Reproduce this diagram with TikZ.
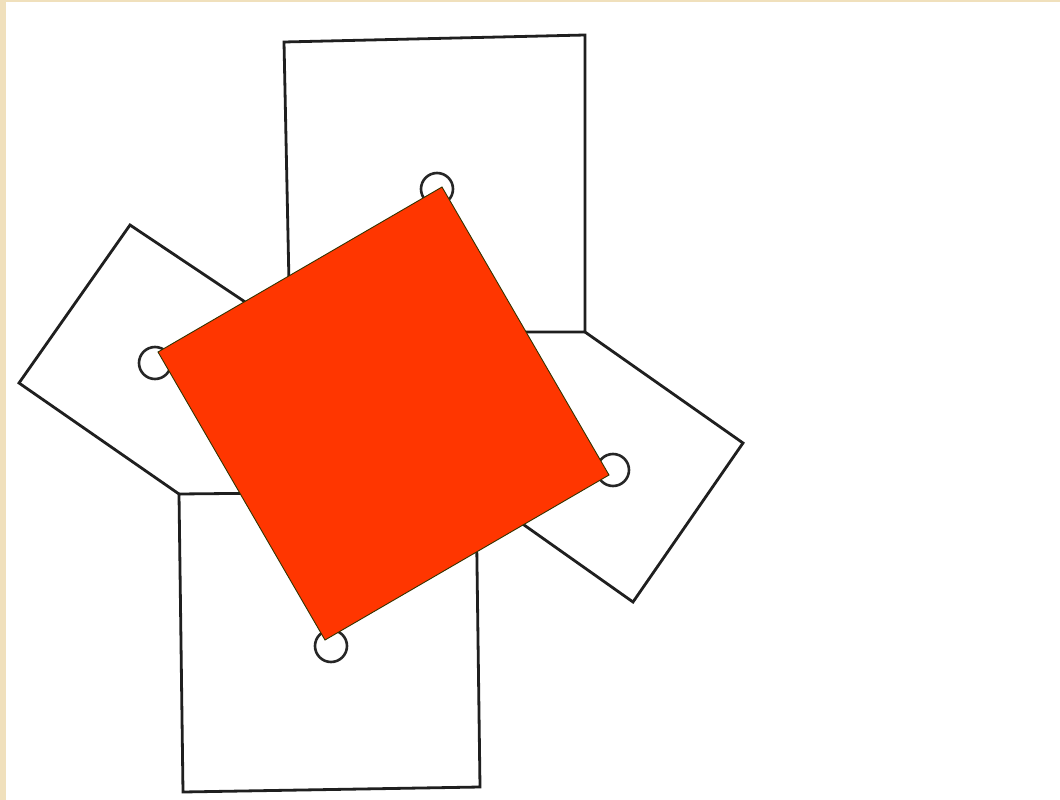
\documentclass[tikz,border=0pt]{standalone}
\begin{document}
\begin{tikzpicture}[x=1pt,y=-1pt,
  sq/.style={draw=black!88,line width=2.8pt,line join=miter},
  ring/.style={draw=black!85,line width=2.6pt},
  redsq/.style={fill=redfill,draw=olivedark,line width=0.9pt}]
\definecolor{redfill}{HTML}{FF3600}
\definecolor{olivedark}{HTML}{333300}
\definecolor{beige}{HTML}{F0E0BC}
% canvas
\fill[beige] (0,0) rectangle (1060,800);
\fill[white] (6,2) rectangle (1060,800);
\useasboundingbox (0,0) rectangle (1060,800);
% central parallelogram corners
\coordinate (P1) at (290,332);
\coordinate (P2) at (585,332);
\coordinate (P3) at (476,491);
\coordinate (P4) at (179,494);
% top square
\draw[sq] (P1) -- (284,42) -- (585,35) -- (P2) -- cycle;
% left square
\draw[sq] (P1) -- (130,225) -- (19,383) -- (P4);
% right square
\draw[sq] (P2) -- (743,443) -- (633,602) -- (P3);
% bottom square
\draw[sq] (P4) -- (183,792) -- (480,787) -- (P3) -- cycle;
% centre rings
\draw[ring] (437,189) circle (16);
\draw[ring] (155,363) circle (16);
\draw[ring] (613,470) circle (16);
\draw[ring] (331,646) circle (16);
% red square joining the centres
\coordinate (R1) at (442,187);
\coordinate (R2) at (158,352);
\coordinate (R3) at (325,640);
\coordinate (R4) at (609,475);
\draw[redsq] (R1) -- (R2) -- (R3) -- (R4) -- cycle;
\end{tikzpicture}
\end{document}
